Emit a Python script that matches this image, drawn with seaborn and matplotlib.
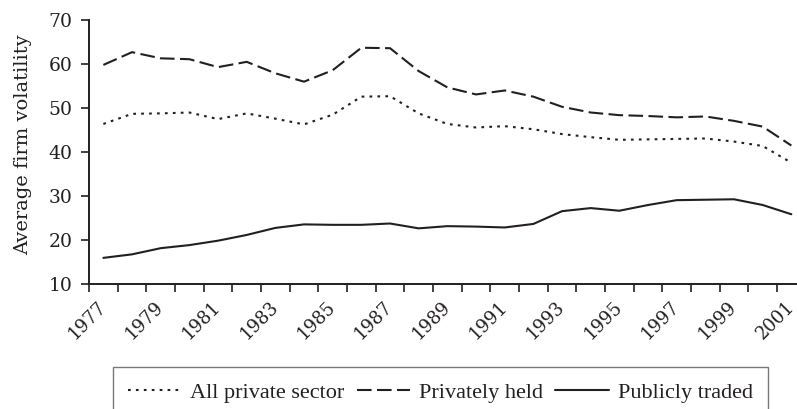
import numpy as np
import pandas as pd
import matplotlib
matplotlib.use("Agg")
import matplotlib.pyplot as plt
import seaborn as sns
from matplotlib.ticker import FixedLocator

# Data
years = list(range(1977, 2002))
all_private = [46.4, 48.7, 48.8, 49.0, 47.5, 48.8, 47.6, 46.3, 48.5, 52.6,
               52.7, 48.8, 46.4, 45.6, 45.9, 45.2, 44.1, 43.4, 42.8, 42.9,
               43.0, 43.1, 42.4, 41.4, 37.6]
privately_held = [59.8, 62.7, 61.3, 61.1, 59.3, 60.5, 57.9, 56.0, 58.6, 63.7,
                  63.6, 58.4, 54.7, 53.1, 54.0, 52.6, 50.3, 49.0, 48.4, 48.2,
                  47.9, 48.1, 47.1, 45.8, 41.5]
publicly_traded = [16.0, 16.8, 18.2, 18.9, 19.9, 21.2, 22.8, 23.6, 23.5, 23.5,
                   23.8, 22.7, 23.2, 23.1, 22.9, 23.7, 26.6, 27.3, 26.7, 28.0,
                   29.1, 29.2, 29.3, 28.0, 25.9]
series_names = ["All private sector", "Privately held", "Publicly traded"]

df = pd.DataFrame({"Year": years,
                   series_names[0]: all_private,
                   series_names[1]: privately_held,
                   series_names[2]: publicly_traded})

sns.set_style("white")
plt.rcParams["font.family"] = ["DejaVu Serif"]
ink = "#231f20"

fig = plt.figure(figsize=(7.97, 4.09), dpi=100)
ax = fig.add_axes([0.1117, 0.3049, 0.8992, 0.6462])

styles = {
    series_names[0]: (0, (1.3, 2.5)),
    series_names[1]: (0, (7, 2.6)),
    series_names[2]: "-",
}
for name in series_names:
    sns.lineplot(data=df, x="Year", y=name, ax=ax, color=ink, linewidth=1.5,
                 linestyle=styles[name], label=name, legend=False)

ax.set_xlim(1976.5, 2001.5)
ax.set_ylim(10, 70)
ax.set_yticks(range(10, 71, 10))
ax.set_xticks(years[::2])
ax.xaxis.set_minor_locator(FixedLocator(np.arange(1976.5, 2002, 1)))
ax.set_xticklabels([str(y) for y in years[::2]], rotation=45, ha="right",
                   va="center", rotation_mode="anchor")
ax.tick_params(axis="x", which="major", length=0, pad=14, labelsize=13,
               colors=ink)
ax.tick_params(axis="x", which="minor", length=6, width=1.2, direction="out",
               color=ink, bottom=True)
ax.tick_params(axis="y", length=6, width=1.2, direction="out", pad=6,
               labelsize=13.5, colors=ink, left=True)

for side in ["top", "right"]:
    ax.spines[side].set_visible(False)
for side in ["left", "bottom"]:
    ax.spines[side].set_color(ink)
    ax.spines[side].set_linewidth(1.4)

ax.set_xlabel("")
ax.set_ylabel("Average firm volatility", fontsize=14, color=ink, va="center")
ax.yaxis.set_label_coords(-0.092, 0.53)

handles, labels = ax.get_legend_handles_labels()
leg = fig.legend(handles, labels, loc="upper left", ncol=3,
                 bbox_to_anchor=(112.7 / 797, 1 - 367 / 409),
                 prop={"family": "Liberation Serif", "size": 16},
                 frameon=True, fancybox=False, borderpad=0.7,
                 handlelength=2.4, handletextpad=0.4, columnspacing=0.55,
                 borderaxespad=0)
leg.get_frame().set_edgecolor("#555555")
leg.get_frame().set_linewidth(1.0)
for t in leg.get_texts():
    t.set_color(ink)

fig.savefig("out.png", dpi=100)
